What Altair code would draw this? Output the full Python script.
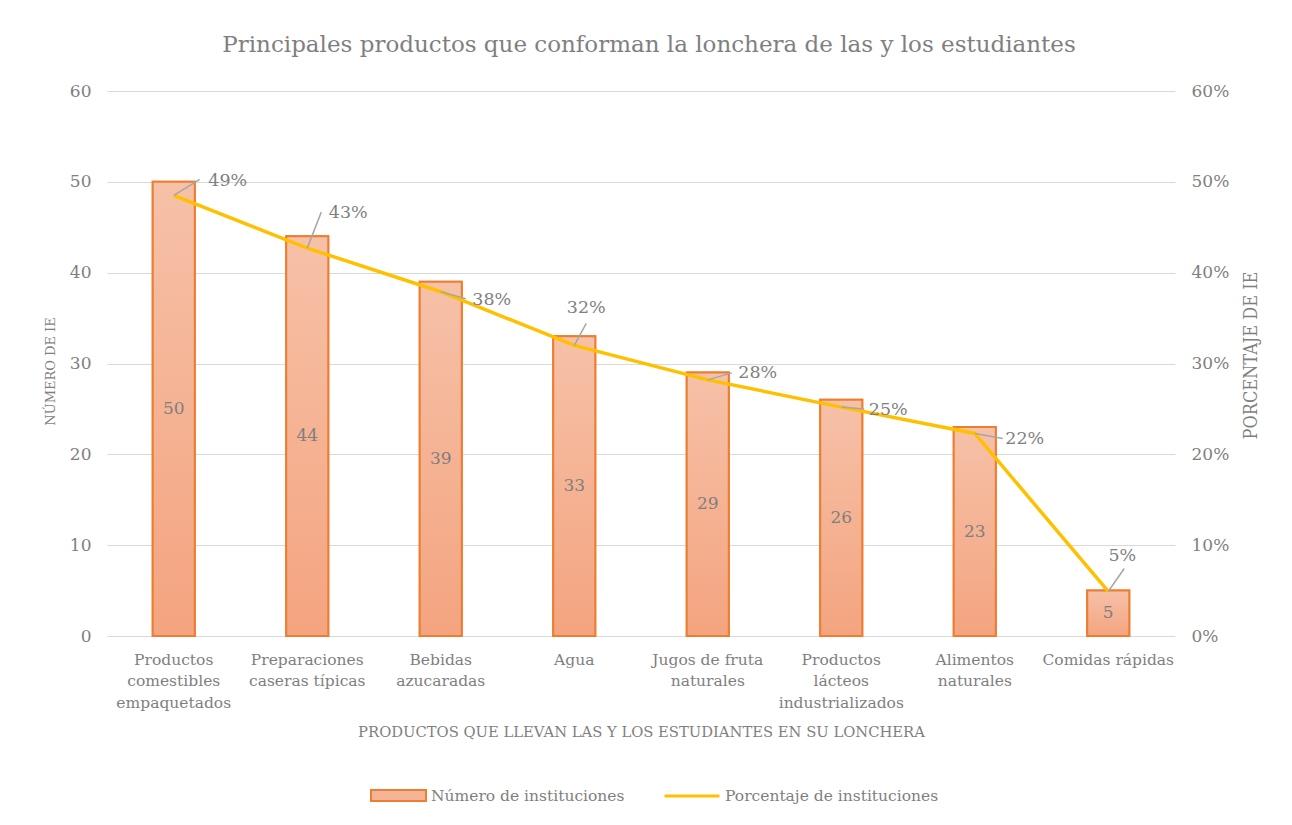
import altair as alt
import pandas as pd

categorias = ["Productos\ncomestibles\nempaquetados", "Preparaciones\ncaseras típicas",
              "Bebidas\nazucaradas", "Agua", "Jugos de fruta\nnaturales",
              "Productos\nlácteos\nindustrializados", "Alimentos\nnaturales", "Comidas rápidas"]
numero = [50, 44, 39, 33, 29, 26, 23, 5]
porcentaje = [48.5, 42.7, 37.9, 32.0, 28.2, 25.2, 22.3, 4.9]
etiquetas_pct = ["49%", "43%", "38%", "32%", "28%", "25%", "22%", "5%"]

# label placement (pixel offsets from each point), styling only
label_dx = [54, 41, 51, 12, 50, 47, 50, 14]
label_dy = [-14, -35, 8, -37, -7, 3, 6, -35]
leader_dx = [26, 14, 25, 12, 24, 23, 28, 16]
leader_dy = [-16, -36, 7, -22, -7, 2, 5, -23]

df = pd.DataFrame({"cat": categorias, "n": numero, "pct": porcentaje, "lab": etiquetas_pct})

FONT = "DejaVu Serif"
GRAY = "#7F7F7F"
W, H = 1068, 545

xaxis = alt.Axis(title="PRODUCTOS QUE LLEVAN LAS Y LOS ESTUDIANTES EN SU LONCHERA",
                 labelAngle=0, labelExpr="split(datum.label, '\\n')",
                 labelLineHeight=21.5, labelPadding=23, labelFontSize=15.5,
                 titleFontSize=14.75, titlePadding=14, labelBaseline="middle")
xenc = alt.X("cat:N", sort=categorias,
             scale=alt.Scale(paddingInner=0.685, paddingOuter=0.3425), axis=xaxis)

yl = alt.Scale(domain=[0, 60])
yr = alt.Scale(domain=[0, 60])
yl_axis = alt.Axis(title="NÚMERO DE IE", values=[0, 10, 20, 30, 40, 50, 60],
                   labelPadding=16, labelFontSize=17, titlePadding=12, titleFontSize=13,
                   titleY=280)
yr_axis = alt.Axis(title="PORCENTAJE DE IE", orient="right", values=[0, 10, 20, 30, 40, 50, 60],
                   labelExpr="datum.value + '%'", labelPadding=16, labelFontSize=17, titlePadding=32,
                   titleAngle=270, titleFontSize=18, grid=False, titleY=264,
                   titleFont="DejaVu Serif Condensed, DejaVu Serif")

base = alt.Chart(df)

bar_legend = base.transform_calculate(serie="'Número de instituciones'").mark_bar(
    stroke="#ED7D31", strokeWidth=2
).encode(
    x=xenc,
    y=alt.Y("n:Q", scale=yl, axis=yl_axis),
    fill=alt.Fill("serie:N", scale=alt.Scale(domain=["Número de instituciones"], range=["#F5B497"]),
                  legend=alt.Legend(title=None, orient="none", legendX=263, legendY=676,
                                    symbolType="M-1,-0.2H1V0.2H-1Z",
                                    symbolSize=3025, symbolStrokeColor="#ED7D31", symbolStrokeWidth=2,
                                    symbolOpacity=1, labelFontSize=15.5, labelColor=GRAY, labelFont=FONT,
                                    labelLimit=400)),
)

bar_grad = base.mark_bar(
    stroke="#ED7D31", strokeWidth=2,
    fill=alt.Gradient(gradient="linear", x1=0, y1=0, x2=0, y2=1,
                      stops=[alt.GradientStop(color="#F6C1A8", offset=0),
                             alt.GradientStop(color="#F4A47F", offset=1)]),
).encode(x=xenc, y=alt.Y("n:Q", scale=yl, axis=yl_axis))

bar_text = base.transform_calculate(mid="datum.n / 2").mark_text(
    font=FONT, fontSize=17, color=GRAY, baseline="middle"
).encode(x=xenc, y=alt.Y("mid:Q", scale=yl, axis=yl_axis), text="n:Q")

left = alt.layer(bar_legend, bar_grad, bar_text)

line = base.transform_calculate(serie2="'Porcentaje de instituciones'").mark_line(strokeWidth=3.5).encode(
    x=xenc,
    y=alt.Y("pct:Q", scale=yr, axis=yr_axis),
    stroke=alt.Stroke("serie2:N", scale=alt.Scale(domain=["Porcentaje de instituciones"], range=["#FFC000"]),
                      legend=alt.Legend(title=None, orient="none", legendX=556, legendY=676,
                                        symbolType="stroke", symbolSize=3025,
                                        symbolStrokeWidth=3, labelFontSize=15.5, labelColor=GRAY,
                                        labelFont=FONT, labelLimit=400)),
)

right_layers = [line]
for i, c in enumerate(categorias):
    sub = base.transform_filter(alt.datum.cat == c)
    right_layers.append(
        sub.mark_rule(color="#A6A6A6", strokeWidth=1.5, x2Offset=leader_dx[i], y2Offset=leader_dy[i]).encode(
            x=xenc, x2=alt.X2("cat"), y=alt.Y("pct:Q", scale=yr, axis=yr_axis), y2=alt.Y2("pct"))
    )
    right_layers.append(
        sub.mark_text(font=FONT, fontSize=17.5, color=GRAY, dx=label_dx[i], dy=label_dy[i],
                      baseline="middle", align="center").encode(
            x=xenc, y=alt.Y("pct:Q", scale=yr, axis=yr_axis), text="lab:N")
    )

right = alt.layer(*right_layers)

chart = alt.layer(left, right).resolve_scale(y="independent").properties(
    width=W, height=H, background="white",
    title=alt.TitleParams("Principales productos que conforman la lonchera de las y los estudiantes",
                          fontSize=23, font=FONT, color=GRAY, fontWeight="normal", anchor="middle",
                          offset=25, dx=8),
    autosize=alt.AutoSizeParams(type="none"),
    padding={"left": 99, "top": 83, "right": 109, "bottom": 181},
).configure_view(stroke=None).configure_axis(
    labelFont=FONT, titleFont=FONT, labelColor=GRAY, titleColor=GRAY, labelFontSize=15.5,
    titleFontWeight="normal", gridColor="#D9D9D9", gridWidth=1, domain=False, ticks=False,
)

chart.save("out.html", embed_options={"renderer": "svg", "actions": False})
